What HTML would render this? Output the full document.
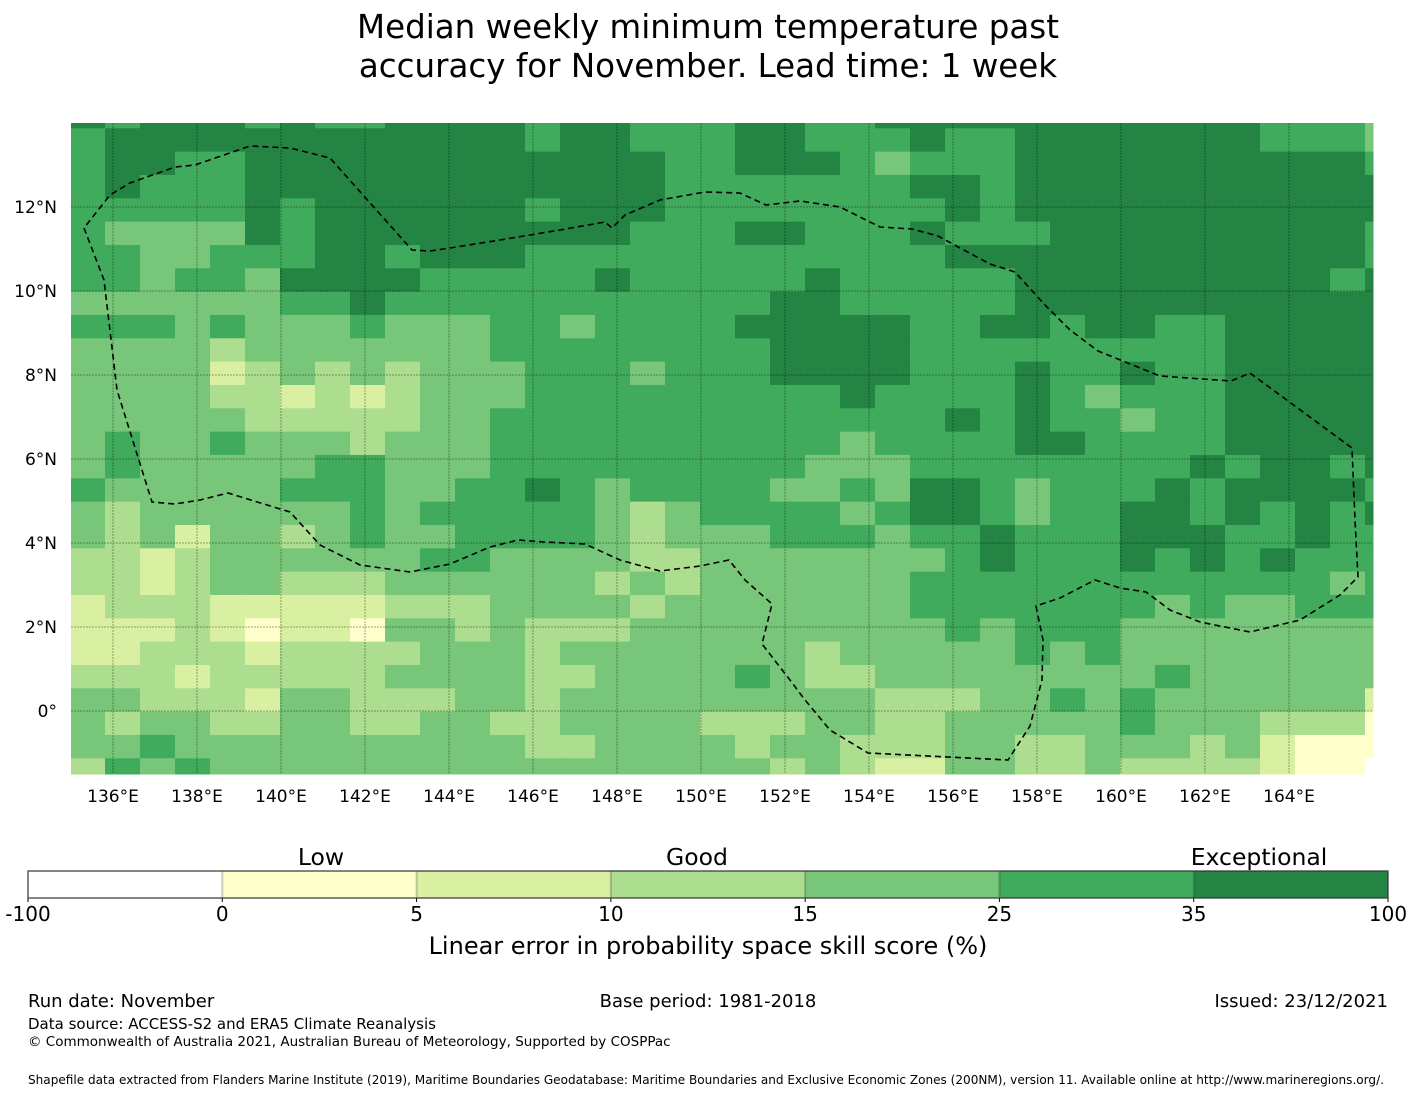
<!DOCTYPE html>
<html><head><meta charset="utf-8">
<style>
html,body{margin:0;padding:0;background:#fff;}
body{width:1416px;height:1095px;overflow:hidden;font-family:"DejaVu Sans","Liberation Sans",sans-serif;}
svg text{font-family:"DejaVu Sans","Liberation Sans",sans-serif;fill:#000;}
</style></head>
<body>
<svg id="chart" width="1416" height="1095" viewBox="0 0 1416 1095" xmlns="http://www.w3.org/2000/svg">
<text x="708" y="38" font-size="32.5" text-anchor="middle">Median weekly minimum temperature past</text>
<text x="708" y="77" font-size="32.5" text-anchor="middle">accuracy for November. Lead time: 1 week</text>
<g id="cells"></g>
<g id="grid"></g>
<polyline id="eez" fill="none" stroke="#000" stroke-width="1.6" stroke-dasharray="6,4"
points="84,228 104,280 117,390 152,502 175,504 200,500 228,493 290,512 320,545 360,565 410,572 450,564 490,547 518,540 545,542 585,544 620,560 660,571 700,566 729,560 745,580 772,604 762,644 790,680 805,700 830,730 868,753 1008,760 1030,726 1042,680 1043,640 1036,606 1060,598 1095,580 1120,588 1146,592 1170,610 1200,622 1250,632 1300,620 1340,595 1358,577 1355,520 1352,448 1250,373 1231,381 1160,376 1098,351 1070,330 1045,305 1015,272 990,264 960,248 938,236 912,229 880,227 840,207 800,201 766,205 740,193 705,192 660,200 625,215 612,228 605,222 560,230 500,240 450,248 430,251 412,250 330,158 290,148 250,146 195,165 175,167 130,183 110,195 84,228"/>
<g id="xticks"></g>
<g id="yticks"></g>
<g id="cbar"></g>
<text x="321" y="865" font-size="23.5" text-anchor="middle">Low</text>
<text x="697" y="865" font-size="23.5" text-anchor="middle">Good</text>
<text x="1259" y="865" font-size="23.5" text-anchor="middle">Exceptional</text>
<text x="708" y="954" font-size="24" text-anchor="middle">Linear error in probability space skill score (%)</text>
<text x="28" y="1007" font-size="18">Run date: November</text>
<text x="708" y="1007" font-size="18" text-anchor="middle">Base period: 1981-2018</text>
<text x="1388" y="1007" font-size="18" text-anchor="end">Issued: 23/12/2021</text>
<text x="28" y="1029" font-size="15">Data source: ACCESS-S2 and ERA5 Climate Reanalysis</text>
<text x="28" y="1046" font-size="13.5">© Commonwealth of Australia 2021, Australian Bureau of Meteorology, Supported by COSPPac</text>
<text x="28" y="1084" font-size="12" textLength="1356" lengthAdjust="spacingAndGlyphs">Shapefile data extracted from Flanders Marine Institute (2019), Maritime Boundaries Geodatabase: Maritime Boundaries and Exclusive Economic Zones (200NM), version 11. Available online at http://www.marineregions.org/.</text>
</svg>
<script>
// Skill category per cell (0=<0,1=0-5,2=5-10,3=10-15,4=15-25,5=25-35,6=35-100); rows north->south, each row = west|middle|east segments
const gridRows = [
"656665655666|656655566556|66666666665554",
"566666666666|656655566555|65566666665554",
"566556666666|666665566654|55566666666665",
"565556666666|666665555555|66566666666666",
"555556566666|656665555555|56566666666666",
"544446566666|666655566555|65556666666665",
"554455566566|655555555555|56666666666665",
"554554666655|555655555655|55566666666656",
"444444556555|555555556655|55566666666666",
"555454445444|554555566666|55665665566666",
"444434444444|555555556666|55555555566666",
"444423434344|455545556666|55565565566666",
"444433232344|455555555565|55565455566666",
"444443333344|555555555555|56565545566666",
"454454443444|555555555545|55566555566666",
"454444455444|555555555444|55555555656656",
"544444555445|565455554454|66545556566665",
"434444445455|555434555545|66545566565656",
"434244345445|555434445554|55655566655655",
"332344444455|444433444444|45655565656555",
"332344333444|444343444444|55555555555545",
"233322222333|444434444444|55555554544555",
"222321221443|433344444444|45455544444444",
"223332333344|434444444344|44454544444444",
"333233333444|433444454334|44444445444444",
"443332443334|434444444443|33445454444442",
"434433443344|334444333443|34444454443331",
"445444444444|433444434433|34433444342111",
"354544444444|444444443432|24433433332110"
];
const levelColors = ["#ffffff","#ffffcc","#d9f0a3","#addd8e","#78c679","#41ab5d","#238443"];
const cbarBounds = ["-100","0","5","10","15","25","35","100"];
const lonTicks = [136,138,140,142,144,146,148,150,152,154,156,158,160,162,164];
const latTicks = [12,10,8,6,4,2,0];

const NS="http://www.w3.org/2000/svg";
const MAP={x0:71,x1:1373,y0:123,y1:774,lonMin:135,latMax:14,ppd:42};
function xOfLon(lon){return MAP.x0+(lon-MAP.lonMin)*MAP.ppd;}
function yOfLat(lat){return MAP.y0+(MAP.latMax-lat)*MAP.ppd;}
const dLon=35/42, dLat=23.333/42, gridLat0=MAP.latMax-5.3/42, gridLon0=MAP.lonMin-1/42;
function mk(tag,attrs){const e=document.createElementNS(NS,tag);for(const k in attrs)e.setAttribute(k,attrs[k]);return e;}

const cells=document.getElementById('cells');
gridRows.forEach((rowStr,r)=>{
  const row=rowStr.replace(/\|/g,'');
  const latTop = r===0 ? MAP.latMax : gridLat0-(r-1)*dLat;
  const latBot = gridLat0-r*dLat;
  let yT=Math.max(MAP.y0,yOfLat(latTop)), yB=Math.min(MAP.y1,yOfLat(latBot));
  for(let c=0;c<row.length;c++){
    const v=+row[c];
    let xL=Math.max(MAP.x0,xOfLon(gridLon0+c*dLon)), xR=Math.min(MAP.x1,xOfLon(gridLon0+(c+1)*dLon));
    if(xR<=xL||yB<=yT)continue;
    const rect=mk('rect',{x:xL,y:yT,width:xR-xL+0.5,height:yB-yT+0.5,fill:levelColors[v]});
    
    
    cells.appendChild(rect);
  }
});

const grid=document.getElementById('grid'), xt=document.getElementById('xticks'), yt=document.getElementById('yticks');
lonTicks.forEach(lon=>{
  const x=xOfLon(lon);
  const l=mk('line',{x1:x,x2:x,y1:MAP.y0,y2:MAP.y1,stroke:'#000','stroke-opacity':0.35,'stroke-width':1,'stroke-dasharray':'2,1'});
  
  
  grid.appendChild(l);
  const t=mk('text',{x:x,y:802,'font-size':17,'text-anchor':'middle'});
  t.textContent=lon+'°E';
  
  
  xt.appendChild(t);
});
latTicks.forEach(lat=>{
  const y=yOfLat(lat);
  const l=mk('line',{x1:MAP.x0,x2:MAP.x1,y1:y,y2:y,stroke:'#000','stroke-opacity':0.35,'stroke-width':1,'stroke-dasharray':'2,1'});
  
  
  grid.appendChild(l);
  const t=mk('text',{x:57,y:y+6,'font-size':17,'text-anchor':'end'});
  t.textContent=lat===0?'0°':lat+'°N';
  
  
  yt.appendChild(t);
});

const cb=document.getElementById('cbar');
const cbX0=28,cbX1=1388,cbY=871,cbH=27,seg=(cbX1-cbX0)/levelColors.length;
levelColors.forEach((col,i)=>{
  const r=mk('rect',{x:cbX0+i*seg,y:cbY,width:seg,height:cbH,fill:col});
  
  
  cb.appendChild(r);
});
cbarBounds.forEach((lab,i)=>{
  const x=cbX0+i*seg;
  if(i>0&&i<cbarBounds.length-1){
    const d=mk('line',{x1:x,x2:x,y1:cbY,y2:cbY+cbH,stroke:'#000','stroke-opacity':0.2,'stroke-width':2});
    
    
    cb.appendChild(d);
  }
  const tk=mk('line',{x1:x,x2:x,y1:cbY+cbH,y2:cbY+cbH+4,stroke:'#000','stroke-width':1});
  
  
  cb.appendChild(tk);
  const t=mk('text',{x:x,y:921,'font-size':20,'text-anchor':'middle'});
  t.textContent=lab;
  
  
  cb.appendChild(t);
});
const frame=mk('rect',{x:cbX0,y:cbY,width:cbX1-cbX0,height:cbH,fill:'none',stroke:'#333','stroke-width':1.2});


cb.appendChild(frame);
</script>
</body></html>
